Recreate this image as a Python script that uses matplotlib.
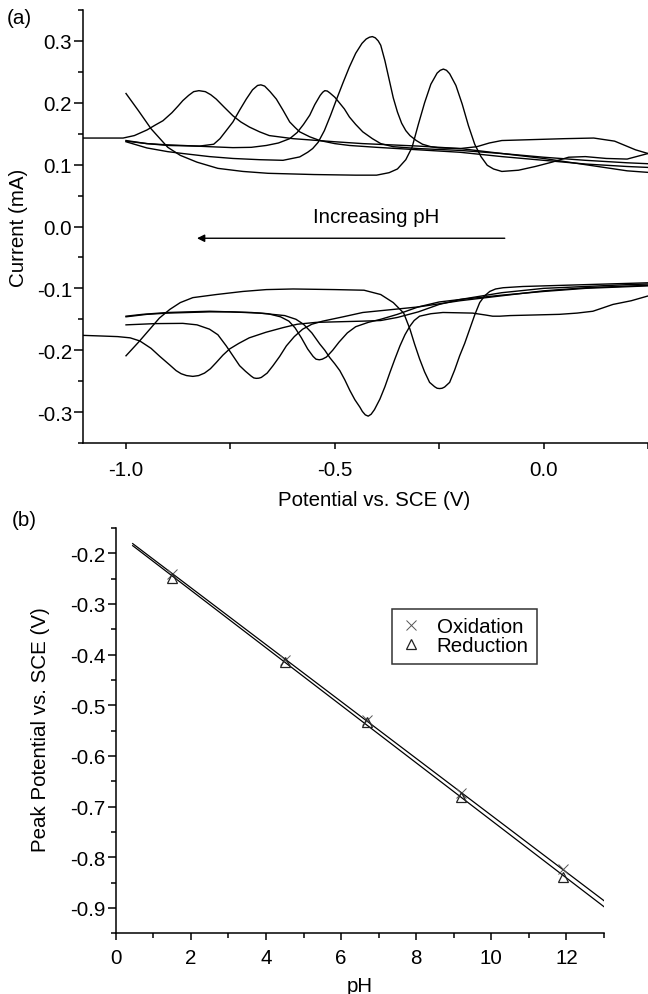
import matplotlib
matplotlib.use("Agg")
import matplotlib.pyplot as plt
import numpy as np
from matplotlib.ticker import MultipleLocator

plt.rcParams['font.family'] = ['Liberation Sans', 'DejaVu Sans']
plt.rcParams['axes.unicode_minus'] = False
FS = 14.8
plt.rcParams['font.size'] = FS

# ---------------- Panel (a): cyclic voltammograms ----------------
# Anodic (upper) branches, potential V vs SCE and current mA
ox_v_ph15 = [-1.00, -0.97, -0.94, -0.90, -0.87, -0.83, -0.78, -0.72, -0.66, -0.55, -0.45, -0.40, -0.37,
             -0.35, -0.33, -0.315, -0.30, -0.285, -0.27, -0.255, -0.2475, -0.24, -0.2325, -0.225, -0.21,
             -0.195, -0.18, -0.165, -0.15, -0.135, -0.12, -0.10, -0.06, -0.02, 0.02, 0.06, 0.10, 0.15,
             0.20, 0.25, 0.30]
ox_i_ph15 = [0.215, 0.187, 0.158, 0.128, 0.115, 0.104, 0.094, 0.089, 0.086, 0.084, 0.083, 0.083, 0.087,
             0.093, 0.108, 0.128, 0.165, 0.200, 0.230, 0.248, 0.2525, 0.2545, 0.2525, 0.247, 0.228,
             0.198, 0.163, 0.133, 0.113, 0.099, 0.093, 0.089, 0.091, 0.097, 0.104, 0.112, 0.113, 0.110,
             0.109, 0.118, 0.122]

ox_v_ph45 = [-1.00, -0.95, -0.90, -0.864, -0.80, -0.744, -0.68, -0.624, -0.584, -0.565, -0.553, -0.54,
             -0.525, -0.51, -0.495, -0.48, -0.465, -0.45, -0.435, -0.425, -0.417, -0.41, -0.403, -0.396,
             -0.39, -0.38, -0.37, -0.36, -0.35, -0.34, -0.33, -0.32, -0.305, -0.29, -0.27, -0.25, -0.20,
             -0.16, -0.13, -0.10, -0.05, 0.00, 0.05, 0.12, 0.17, 0.22, 0.25, 0.30]
ox_i_ph45 = [0.137, 0.127, 0.121, 0.118, 0.113, 0.110, 0.108, 0.107, 0.1125, 0.120, 0.126, 0.136,
             0.155, 0.180, 0.207, 0.233, 0.258, 0.280, 0.296, 0.303, 0.306, 0.307, 0.305, 0.300,
             0.293, 0.268, 0.238, 0.208, 0.185, 0.167, 0.155, 0.147, 0.139, 0.133, 0.129, 0.127, 0.126,
             0.129, 0.135, 0.139, 0.140, 0.141, 0.142, 0.143, 0.138, 0.124, 0.118, 0.112]

ox_v_ph67 = [-1.00, -0.95, -0.90, -0.864, -0.80, -0.744, -0.70, -0.664, -0.635, -0.608, -0.59, -0.575,
             -0.56, -0.548, -0.535, -0.529, -0.524, -0.518, -0.512, -0.50, -0.489, -0.477, -0.465, -0.45,
             -0.433, -0.41, -0.39, -0.36, -0.30, -0.20, -0.10, 0.00, 0.10, 0.20, 0.30]
ox_i_ph67 = [0.138, 0.134, 0.132, 0.131, 0.129, 0.1275, 0.128, 0.131, 0.135, 0.142, 0.152, 0.165,
             0.180, 0.197, 0.212, 0.217, 0.2196, 0.219, 0.216, 0.209, 0.200, 0.190, 0.177, 0.165,
             0.153, 0.142, 0.134, 0.129, 0.126, 0.123, 0.118, 0.112, 0.107, 0.103, 0.100]

ox_v_ph92 = [-1.00, -0.95, -0.90, -0.824, -0.79, -0.775, -0.76, -0.744, -0.728, -0.712, -0.697, -0.685,
             -0.677, -0.668, -0.655, -0.64, -0.624, -0.608, -0.595, -0.584, -0.56, -0.536, -0.50, -0.465,
             -0.40, -0.30, -0.20, -0.10, 0.00, 0.10, 0.20, 0.30]
ox_i_ph92 = [0.139, 0.134, 0.131, 0.130, 0.133, 0.142, 0.155, 0.169, 0.188, 0.206, 0.221, 0.228,
             0.229, 0.227, 0.218, 0.206, 0.188, 0.169, 0.160, 0.153, 0.145, 0.139, 0.134, 0.131,
             0.128, 0.124, 0.120, 0.113, 0.107, 0.101, 0.097, 0.094]

ox_v_ph119 = [-1.103, -1.05, -1.007, -0.98, -0.95, -0.93, -0.9115, -0.89, -0.875, -0.864, -0.85, -0.838,
              -0.8254, -0.81, -0.797, -0.784, -0.765, -0.744, -0.725, -0.7046, -0.68, -0.657, -0.60,
              -0.50, -0.433, -0.30, -0.20, -0.10, 0.00, 0.10, 0.20, 0.30]
ox_i_ph119 = [0.143, 0.143, 0.143, 0.147, 0.156, 0.164, 0.171, 0.184, 0.195, 0.2035, 0.212, 0.218,
              0.2196, 0.218, 0.213, 0.206, 0.193, 0.179, 0.169, 0.1608, 0.153, 0.147, 0.142,
              0.137, 0.134, 0.130, 0.126, 0.118, 0.110, 0.100, 0.090, 0.085]

# Cathodic (lower) branches
red_v_ph15 = [0.30, 0.25, 0.15, 0.05, 0.00, -0.05, -0.097, -0.115, -0.129, -0.141, -0.153, -0.165, -0.177,
              -0.189, -0.201, -0.213, -0.225, -0.237, -0.243, -0.249, -0.255, -0.261, -0.273, -0.285,
              -0.297, -0.309, -0.32, -0.335, -0.36, -0.39, -0.43, -0.50, -0.60, -0.664, -0.72, -0.784,
              -0.84, -0.87, -0.895, -0.92, -0.943, -0.97, -1.00]
red_i_ph15 = [-0.089, -0.091, -0.093, -0.095, -0.096, -0.097, -0.099, -0.101, -0.105, -0.112, -0.123,
              -0.143, -0.166, -0.189, -0.209, -0.232, -0.252, -0.2595, -0.2615, -0.262, -0.2615, -0.259,
              -0.252, -0.235, -0.214, -0.190, -0.166, -0.140, -0.123, -0.110, -0.103, -0.102, -0.101,
              -0.102, -0.105, -0.110, -0.115, -0.123, -0.134, -0.148, -0.166, -0.187, -0.209]

red_v_ph45 = [0.30, 0.249, 0.21, 0.166, 0.14, 0.118, 0.08, 0.038, -0.02, -0.08, -0.105, -0.122, -0.14,
              -0.17, -0.241, -0.27, -0.297, -0.31, -0.32, -0.332, -0.344, -0.356, -0.368, -0.38, -0.392,
              -0.405, -0.413, -0.42, -0.427, -0.434, -0.44, -0.452, -0.464, -0.476, -0.488, -0.50,
              -0.512, -0.524, -0.536, -0.555, -0.575, -0.593, -0.62, -0.68, -0.75, -0.80, -0.90, -0.95,
              -1.00]
red_i_ph45 = [-0.108, -0.1125, -0.120, -0.126, -0.132, -0.137, -0.140, -0.142, -0.143, -0.144, -0.145,
              -0.145, -0.143, -0.140, -0.139, -0.141, -0.145, -0.152, -0.161, -0.175, -0.193, -0.214,
              -0.236, -0.259, -0.279, -0.296, -0.3035, -0.3066, -0.3045, -0.299, -0.292, -0.280,
              -0.265, -0.248, -0.233, -0.222, -0.212, -0.200, -0.190, -0.172, -0.158, -0.150, -0.144,
              -0.140, -0.138, -0.138, -0.140, -0.142, -0.146]

red_v_ph67 = [0.30, 0.25, 0.10, 0.00, -0.10, -0.20, -0.25, -0.30, -0.35, -0.39, -0.42, -0.45, -0.47,
              -0.49, -0.505, -0.52, -0.53, -0.537, -0.545, -0.552, -0.565, -0.58, -0.595, -0.61, -0.63,
              -0.66, -0.70, -0.80, -0.90, -0.96, -1.00]
red_i_ph67 = [-0.094, -0.096, -0.100, -0.105, -0.111, -0.118, -0.122, -0.130, -0.142, -0.150, -0.155,
              -0.162, -0.172, -0.187, -0.200, -0.211, -0.2145, -0.2155, -0.2145, -0.210, -0.198, -0.180,
              -0.164, -0.153, -0.146, -0.141, -0.139, -0.137, -0.139, -0.142, -0.145]

red_v_ph92 = [0.30, 0.25, 0.10, 0.00, -0.10, -0.20, -0.30, -0.433, -0.48, -0.529, -0.555, -0.577, -0.597,
              -0.616, -0.632, -0.648, -0.662, -0.676, -0.682, -0.688, -0.694, -0.70, -0.714, -0.728,
              -0.744, -0.76, -0.78, -0.80, -0.83, -0.864, -0.93, -1.00]
red_i_ph92 = [-0.094, -0.095, -0.099, -0.104, -0.112, -0.120, -0.130, -0.139, -0.146, -0.153, -0.158,
              -0.166, -0.178, -0.193, -0.210, -0.225, -0.237, -0.244, -0.2452, -0.2455, -0.2448, -0.242,
              -0.234, -0.225, -0.209, -0.193, -0.175, -0.166, -0.159, -0.1566, -0.157, -0.159]

red_v_ph119 = [0.30, 0.20, 0.10, 0.00, -0.10, -0.20, -0.25, -0.30, -0.35, -0.39, -0.433, -0.49, -0.545,
               -0.59, -0.624, -0.665, -0.705, -0.73, -0.752, -0.768, -0.784, -0.798, -0.812, -0.826,
               -0.84, -0.855, -0.868, -0.88, -0.895, -0.919, -0.94, -0.967, -0.99, -1.02, -1.06, -1.103]
red_i_ph119 = [-0.092, -0.094, -0.097, -0.100, -0.107, -0.118, -0.126, -0.138, -0.147, -0.152, -0.153,
               -0.154, -0.155, -0.158, -0.1635, -0.171, -0.180, -0.189, -0.198, -0.208, -0.220, -0.230,
               -0.237, -0.241, -0.2423, -0.241, -0.238, -0.233, -0.224, -0.210, -0.197, -0.185, -0.180,
               -0.178, -0.177, -0.176]

# ---------------- Panel (b): peak potential vs pH ----------------
ph_values = [1.5, 4.5, 6.7, 9.2, 11.9]
ox_peak = [-0.240, -0.410, -0.528, -0.674, -0.824]
red_peak = [-0.248, -0.415, -0.533, -0.681, -0.839]
fit_ph_range = [0.45, 13.0]

fig = plt.figure(figsize=(6.48, 9.95), dpi=100)
W, H = 648.0, 995.0

ax1 = fig.add_axes([83 / W, 1 - 444 / H, (648 - 83) / W, (444 - 11) / H])
curves = [(ox_v_ph15, ox_i_ph15), (ox_v_ph45, ox_i_ph45), (ox_v_ph67, ox_i_ph67),
          (ox_v_ph92, ox_i_ph92), (ox_v_ph119, ox_i_ph119),
          (red_v_ph15, red_i_ph15), (red_v_ph45, red_i_ph45), (red_v_ph67, red_i_ph67),
          (red_v_ph92, red_i_ph92), (red_v_ph119, red_i_ph119)]
for v, i in curves:
    ax1.plot(v, i, color='black', lw=1.0, solid_joinstyle='round')

ax1.set_xlim(-1.103, 0.25)
ax1.set_ylim(-0.35, 0.35)
ax1.spines['top'].set_visible(False)
ax1.spines['right'].set_visible(False)
for s in ['left', 'bottom']:
    ax1.spines[s].set_linewidth(1.1)
ax1.xaxis.set_major_locator(MultipleLocator(0.5))
ax1.xaxis.set_minor_locator(MultipleLocator(0.25))
ax1.yaxis.set_major_locator(MultipleLocator(0.1))
ax1.yaxis.set_minor_locator(MultipleLocator(0.05))
fmt = plt.FuncFormatter(lambda x, p: f"{x:.1f}".replace("-0.0", "0.0"))
ax1.xaxis.set_major_formatter(fmt)
ax1.yaxis.set_major_formatter(fmt)
ax1.tick_params(axis='y', which='major', direction='out', length=6.5, width=1.1, pad=1.5, labelsize=FS)
ax1.tick_params(axis='y', which='minor', direction='out', length=3.6, width=1.1)
ax1.tick_params(axis='x', which='major', direction='out', length=4.5, width=1.1, pad=8, labelsize=FS)
ax1.tick_params(axis='x', which='minor', direction='out', length=4.0, width=1.1)
ax1.set_xlabel('Potential vs. SCE (V)', fontsize=FS)
ax1.set_ylabel('Current (mA)', fontsize=FS)
ax1.xaxis.set_label_coords(0.516, -0.108)
ax1.yaxis.set_label_coords(-0.097, 0.5)

ax1.text(-0.402, 0.0166, 'Increasing pH', ha='center', va='center', fontsize=FS)
ax1.annotate('', xy=(-0.83, -0.019), xytext=(-0.093, -0.019),
             arrowprops=dict(arrowstyle='-|>', lw=1.0, color='black', mutation_scale=11,
                             shrinkA=0, shrinkB=0))

ax2 = fig.add_axes([115.8 / W, 1 - 934.3 / H, (604 - 115.8) / W, (934.3 - 529) / H])
ph_arr = np.array(ph_values)
fit_x = np.array(fit_ph_range)
for peaks in (ox_peak, red_peak):
    coef = np.polyfit(ph_arr, np.array(peaks), 1)
    ax2.plot(fit_x, np.polyval(coef, fit_x), color='black', lw=0.9)
ax2.plot(ph_values, ox_peak, linestyle='none', marker='x', markersize=7.5, markeredgewidth=0.7,
         color='#555555', label='Oxidation')
ax2.plot(ph_values, red_peak, linestyle='none', marker='^', markersize=7.5, markeredgewidth=0.9,
         markerfacecolor='none', markeredgecolor='#222222', label='Reduction')
ax2.set_xlim(0, 13)
ax2.set_ylim(-0.95, -0.15)
ax2.spines['top'].set_visible(False)
ax2.spines['right'].set_visible(False)
for s in ['left', 'bottom']:
    ax2.spines[s].set_linewidth(1.1)
ax2.xaxis.set_major_locator(MultipleLocator(2))
ax2.xaxis.set_minor_locator(MultipleLocator(1))
ax2.yaxis.set_major_locator(MultipleLocator(0.1))
ax2.yaxis.set_minor_locator(MultipleLocator(0.05))
ax2.yaxis.set_major_formatter(plt.FuncFormatter(lambda x, p: f"{x:.1f}"))
ax2.tick_params(axis='y', which='major', direction='out', length=6.0, width=1.1, pad=1.5, labelsize=FS)
ax2.tick_params(axis='y', which='minor', direction='out', length=3.6, width=1.1)
ax2.tick_params(axis='x', which='major', direction='out', length=5.3, width=1.1, pad=5, labelsize=FS)
ax2.tick_params(axis='x', which='minor', direction='out', length=3.5, width=1.1)
ax2.set_xlabel('pH', fontsize=FS)
ax2.set_ylabel('Peak Potential vs. SCE (V)', fontsize=FS)
ax2.xaxis.set_label_coords(0.5, -0.105)
ax2.yaxis.set_label_coords(-0.135, 0.504)
leg = ax2.legend(loc='upper left', bbox_to_anchor=(0.566, 0.80), frameon=True, fancybox=False,
                 edgecolor='black', fontsize=FS, handletextpad=0.77, handlelength=1.0,
                 borderpad=0.4, labelspacing=0.0, borderaxespad=0)
leg.get_frame().set_linewidth(1.1)

fig.text(19.5 / W, 1 - 18.5 / H, '(a)', ha='center', va='center', fontsize=FS)
fig.text(24 / W, 1 - 521 / H, '(b)', ha='center', va='center', fontsize=FS)

fig.savefig('out.png', dpi=100)
